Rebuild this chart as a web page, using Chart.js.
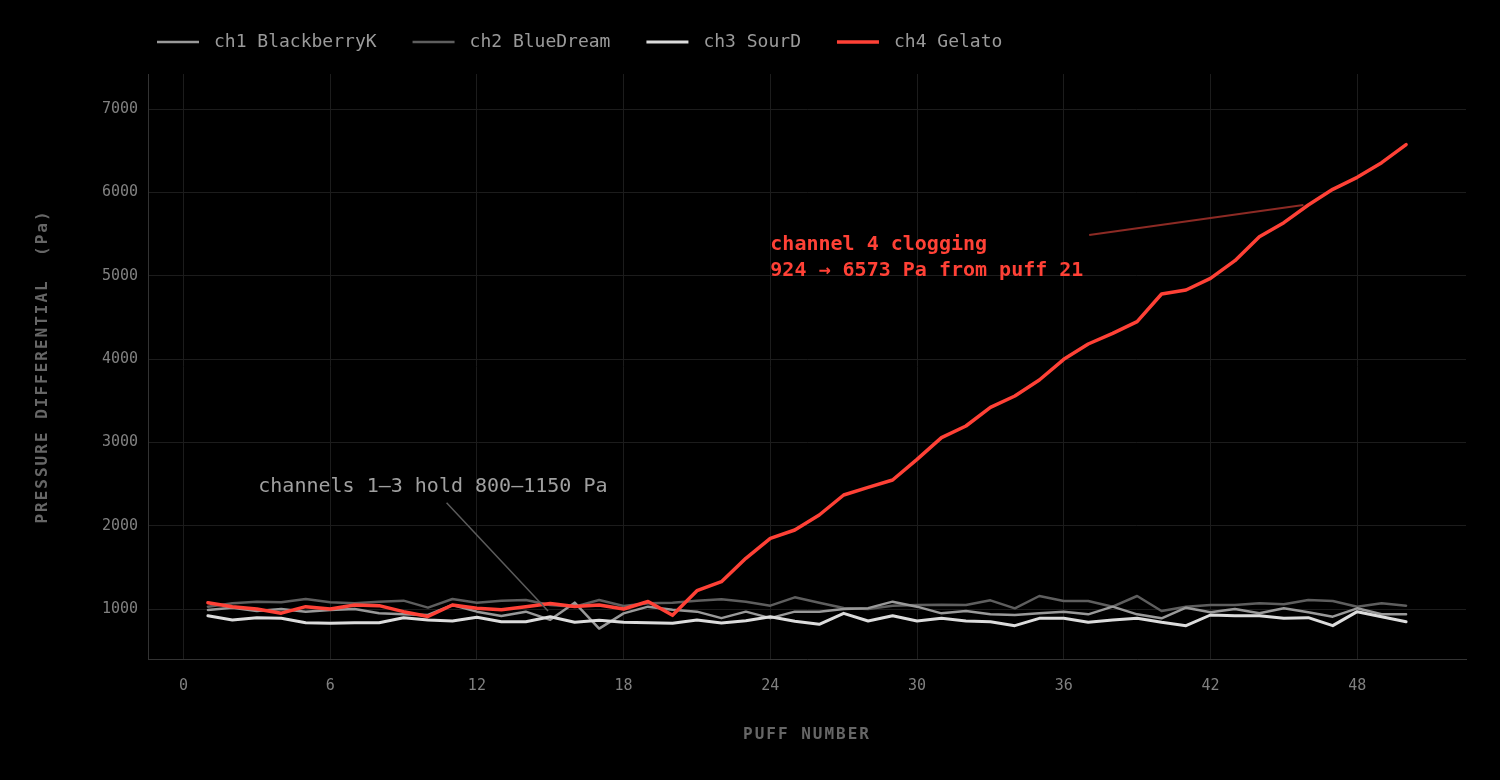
<!DOCTYPE html>
<html>
<head>
<meta charset="utf-8">
<title>Pressure differential per puff</title>
<script src="https://cdn.jsdelivr.net/npm/chart.js@4.4.1/dist/chart.umd.min.js"></script>
<style>
  html, body { margin: 0; padding: 0; background: #000; }
  #wrap { width: 1500px; height: 780px; }
</style>
</head>
<body>
<div id="wrap"><canvas id="puffChart" width="1500" height="780"></canvas></div>
<script>
// puff number on x, pressure in Pa on y
const puffs = [1, 2, 3, 4, 5, 6, 7, 8, 9, 10, 11, 12, 13, 14, 15, 16, 17, 18, 19, 20,
  21, 22, 23, 24, 25, 26, 27, 28, 29, 30, 31, 32, 33, 34, 35, 36, 37, 38, 39, 40,
  41, 42, 43, 44, 45, 46, 47, 48, 49, 50];

const ch1 = [988, 1016, 976, 1000, 968, 988, 1000, 948, 936, 928, 1048, 968, 916, 968, 870, 1076, 765, 948, 1028, 990,
  968, 890, 968, 890, 968, 968, 1000, 1010, 1088, 1028, 948, 976, 936, 928, 948, 968, 936, 1028, 936, 888,
  1016, 960, 1000, 948, 1008, 960, 908, 1008, 936, 936];

const ch2 = [1028, 1068, 1088, 1080, 1120, 1080, 1068, 1088, 1100, 1016, 1120, 1076, 1100, 1108, 1048, 1028, 1108, 1036, 1068, 1076,
  1100, 1116, 1088, 1040, 1140, 1076, 1012, 1000, 1040, 1048, 1052, 1048, 1104, 1008, 1156, 1096, 1096, 1028, 1156, 976,
  1028, 1048, 1048, 1068, 1056, 1108, 1096, 1028, 1068, 1040];

const ch3 = [920, 868, 896, 888, 836, 828, 836, 836, 896, 868, 856, 900, 848, 848, 908, 840, 866, 840, 836, 828,
  868, 832, 858, 908, 852, 816, 948, 856, 920, 856, 888, 856, 848, 800, 888, 888, 840, 868, 888, 840,
  800, 928, 920, 920, 888, 896, 800, 968, 908, 848];

const ch4 = [1075, 1028, 1000, 950, 1028, 1000, 1048, 1040, 968, 910, 1048, 1008, 990, 1028, 1065, 1030, 1048, 1000, 1090, 924,
  1220, 1328, 1608, 1848, 1948, 2128, 2368, 2460, 2548, 2796, 3056, 3196, 3420, 3556, 3748, 3996, 4180, 4308, 4448, 4780,
  4828, 4968, 5180, 5468, 5636, 5848, 6036, 6180, 6356, 6573];

const seriesNames = ['ch1 BlackberryK', 'ch2 BlueDream', 'ch3 SourD', 'ch4 Gelato'];
const xTicks = [0, 6, 12, 18, 24, 30, 36, 42, 48];
const yTicks = [1000, 2000, 3000, 4000, 5000, 6000, 7000];

// callouts, anchored in data units (puff, Pa)
const holdText = ['channels 1–3 hold 800–1150 Pa'];
const holdAt = [3.06, 2464];
const holdLine = [[10.76, 2276], [14.91, 976]];
const clogText = ['channel 4 clogging', '924 → 6573 Pa from puff 21'];
const clogAt = [24.0, 5368];
const clogLine = [[37.04, 5488], [45.8, 5848]];

const MONO = '"DejaVu Sans Mono", "Liberation Mono", monospace';
Chart.defaults.font.family = MONO;

const toXY = (arr) => arr.map((v, i) => ({ x: puffs[i], y: v }));

// legend drawn by hand so it can sit over the plot's left edge
const lineLegend = {
  id: 'lineLegend',
  afterDraw(chart) {
    const ctx = chart.ctx;
    let x = 157;
    const y = 42;
    ctx.save();
    ctx.font = '18px ' + MONO;
    ctx.textBaseline = 'middle';
    chart.data.datasets.forEach(ds => {
      ctx.strokeStyle = ds.borderColor;
      ctx.lineWidth = ds.borderWidth;
      ctx.beginPath();
      ctx.moveTo(x, y);
      ctx.lineTo(x + 42, y);
      ctx.stroke();
      x += 42 + 15;
      ctx.fillStyle = '#9a9a9a';
      ctx.fillText(ds.label, x, y);
      x += ctx.measureText(ds.label).width + 36;
    });
    ctx.restore();
  }
};

// spaced axis titles + callouts
const extras = {
  id: 'extras',
  afterDatasetsDraw(chart) {
    const { ctx, chartArea, scales: { x, y } } = chart;
    const px = p => [x.getPixelForValue(p[0]), y.getPixelForValue(p[1])];
    ctx.save();

    // gray callout
    let a = px(holdLine[0]), b = px(holdLine[1]);
    ctx.strokeStyle = '#5c5c5c';
    ctx.lineWidth = 1.5;
    ctx.beginPath(); ctx.moveTo(a[0], a[1]); ctx.lineTo(b[0], b[1]); ctx.stroke();
    let t = px(holdAt);
    ctx.font = '20px ' + MONO;
    ctx.textBaseline = 'middle';
    ctx.fillStyle = '#a0a0a0';
    holdText.forEach((s, i) => ctx.fillText(s, t[0], t[1] + i * 26));

    // red callout
    a = px(clogLine[0]); b = px(clogLine[1]);
    ctx.strokeStyle = '#8c2a24';
    ctx.lineWidth = 2;
    ctx.beginPath(); ctx.moveTo(a[0], a[1]); ctx.lineTo(b[0], b[1]); ctx.stroke();
    t = px(clogAt);
    ctx.font = 'bold 20px ' + MONO;
    ctx.fillStyle = '#ff4136';
    clogText.forEach((s, i) => ctx.fillText(s, t[0], t[1] + i * 26));

    // axis titles
    ctx.font = 'bold 16px ' + MONO;
    ctx.letterSpacing = '2px';
    ctx.fillStyle = '#666';
    ctx.textAlign = 'center';
    ctx.fillText('PUFF NUMBER', (chartArea.left + chartArea.right) / 2, chartArea.bottom + 76);
    ctx.translate(chartArea.left - 105, (chartArea.top + chartArea.bottom) / 2);
    ctx.rotate(-Math.PI / 2);
    ctx.fillText('PRESSURE DIFFERENTIAL  (Pa)', 0, 0);
    ctx.restore();
  }
};

const ctx = document.getElementById('puffChart').getContext('2d');

const puffChart = new Chart(ctx, {
  type: 'line',
  data: {
    datasets: [
      { label: seriesNames[0], data: toXY(ch1), borderColor: '#999999', borderWidth: 2.5, order: 2 },
      { label: seriesNames[1], data: toXY(ch2), borderColor: '#5e5e5e', borderWidth: 2.5, order: 3 },
      { label: seriesNames[2], data: toXY(ch3), borderColor: '#dcdcdc', borderWidth: 3, order: 1 },
      { label: seriesNames[3], data: toXY(ch4), borderColor: '#ff4136', borderWidth: 3.5, order: 0 },
    ],
  },
  options: {
    responsive: false,
    animation: false,
    devicePixelRatio: 1,
    layout: { padding: { left: 20, right: 34, top: 74, bottom: 0 } },
    elements: {
      point: { radius: 0 },
      line: { tension: 0, borderCapStyle: 'round', borderJoinStyle: 'round' },
    },
    plugins: {
      legend: { display: false },
      tooltip: { enabled: false },
    },
    scales: {
      x: {
        type: 'linear',
        min: -1.45,
        max: 52.45,
        afterBuildTicks: s => { s.ticks = xTicks.map(v => ({ value: v })); },
        afterFit: s => { s.height = 121; },
        grid: { color: '#1c1c1c', drawTicks: false },
        border: { color: '#333' },
        ticks: { color: '#808080', font: { size: 15 }, padding: 18, callback: v => String(v) },
      },
      y: {
        min: 400,
        max: 7420,
        afterBuildTicks: s => { s.ticks = yTicks.map(v => ({ value: v })); },
        afterFit: s => { s.width = 128; },
        grid: { color: '#1c1c1c', drawTicks: false },
        border: { color: '#333' },
        ticks: { color: '#808080', font: { size: 15 }, padding: 10, callback: v => String(v) },
      },
    },
  },
  plugins: [lineLegend, extras],
});
</script>
</body>
</html>
